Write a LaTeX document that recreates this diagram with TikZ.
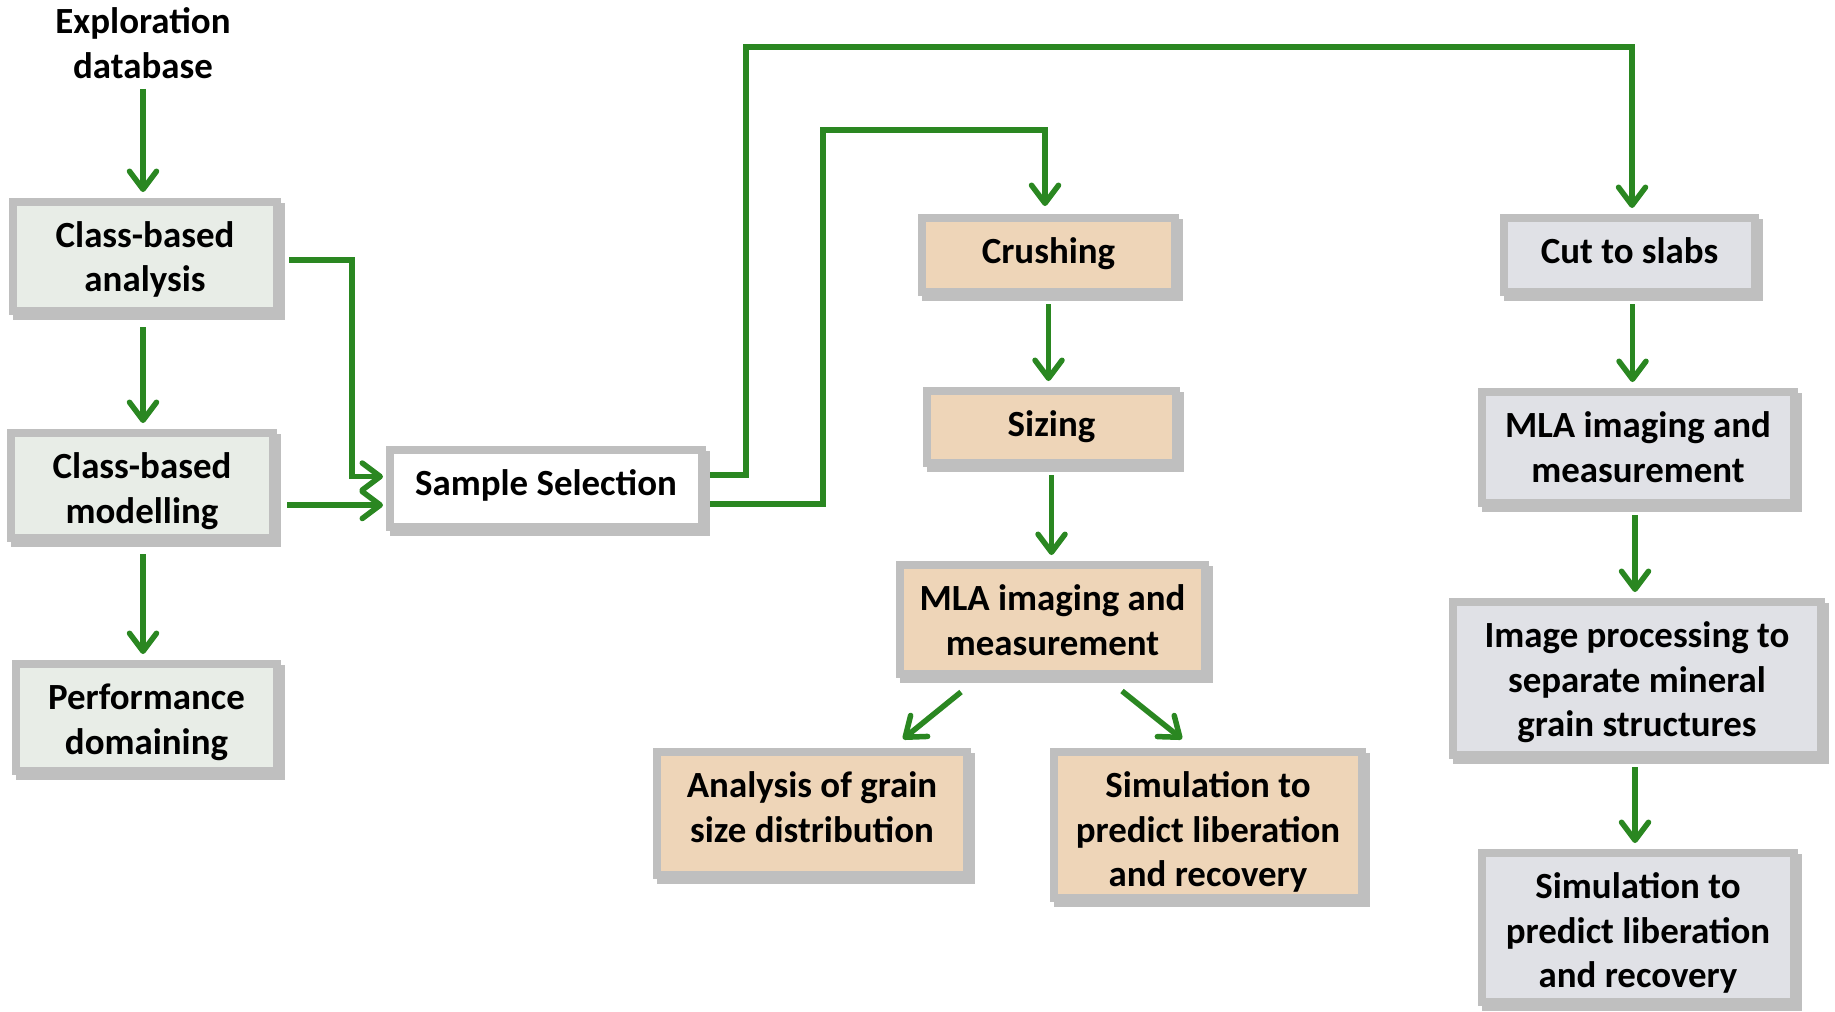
\documentclass[tikz,border=0pt]{standalone}
\usepackage{fontspec}
\setmainfont{Carlito}
\usepackage{tikz}
\usepackage{xcolor}
\usetikzlibrary{arrows.meta, positioning}
\definecolor{flowgreen}{RGB}{42,135,33}
\definecolor{boxline}{RGB}{191,191,191}
\definecolor{geofill}{RGB}{232,237,231}
\definecolor{labfill}{RGB}{238,213,184}
\definecolor{slabfill}{RGB}{224,225,230}
\newcommand{\boxfont}{\bfseries\fontsize{21}{25.6}\selectfont}

\begin{document}
\begin{tikzpicture}[x=0.2mm, y=-0.2mm,
  box/.style={draw=boxline, line width=1.6mm, align=center, inner sep=0pt, font=\boxfont,
    preaction={draw=boxline, line width=1.6mm, transform canvas={shift={(0.8mm,-0.9mm)}}}},
  boxdim/.style n args={3}{minimum width=#1, minimum height=#2,
    text height={\dimexpr 25.6pt*#3+9mm\relax}, text depth={\dimexpr #2-25.6pt*#3-9mm\relax}}, % width, height, extra lines
  geo/.style={box, fill=geofill},
  lab/.style={box, fill=labfill},
  slab/.style={box, fill=slabfill},
  flow/.style={draw=flowgreen, line width=1.1mm, -{Straight Barb[length=3.6mm,width=5.4mm,round]},
    shorten <=1.6mm, shorten >=1.2mm},
  elbow/.style={flow, shorten <=1.4mm, shorten >=0.6mm},
  diag/.style={flow, shorten <=0pt, shorten >=0pt}] %picture scale is one reference pixel
 \useasboundingbox (0,0) rectangle (1835,1011); % page size
 % left column
 \node (expl) at (143,43) [font=\boxfont, align=center, inner sep=0pt] {Exploration\\database};
 \node (ana) at (145,256.5) [geo, boxdim={52.8mm}{21.8mm}{1}] {Class-based\\analysis};
 \node (mod) at (142,485.5) [geo, boxdim={52.4mm}{21mm}{1}] {Class-based\\modelling};
 \node (perf) at (146.5,717.5) [geo, boxdim={52.2mm}{21.4mm}{1}] {Performance\\domaining};
 \node (sel) at (546,488.5) [box, fill=white, boxdim={62.4mm}{15.4mm}{0}] {Sample Selection};
 % crushed sample branch
 \node (crush) at (1048.5,255) [lab, boxdim={50.6mm}{14.8mm}{0}] {Crushing};
 \node (size) at (1051.5,427) [lab, boxdim={49.8mm}{14.4mm}{0}] {Sizing};
 \node (mla1) at (1052.5,619.5) [lab, boxdim={61mm}{21.8mm}{1}] {MLA imaging and\\measurement};
 \node (grain) at (812,813.5) [lab, boxdim={62mm}{24.6mm}{1}] {Analysis of grain\\size distribution};
 \node (sim1) at (1208,825) [lab, boxdim={61.6mm}{29.2mm}{2}] {Simulation to\\predict liberation\\and recovery};
 % slab branch
 \node (cut) at (1629.5,255) [slab, boxdim={50.2mm}{14.8mm}{0}] {Cut to slabs};
 \node (mla2) at (1638,447.5) [slab, boxdim={62.4mm}{22.2mm}{1}] {MLA imaging and\\measurement};
 \node (img) at (1637,678.5) [slab, boxdim={73.6mm}{30.6mm}{2}] {Image processing to\\separate mineral\\grain structures};
 \node (sim2) at (1638,927.5) [slab, boxdim={62.4mm}{29.8mm}{2}] {Simulation to\\predict liberation\\and recovery};
 % turning points
 \coordinate (selin1) at ([yshift=2.4mm]sel.west);
 \coordinate (selin2) at ([yshift=-3.3mm]sel.west);
 \coordinate (selout1) at ([yshift=2.7mm]sel.east);
 \coordinate (selout2) at ([yshift=-3.1mm]sel.east);
 \coordinate (bend) at (352,0);
 \coordinate (outer) at (746,47);
 \coordinate (inner) at (823,130);
 % connectors
 \draw[flow, shorten <=2mm] (expl.south) -- (expl.south |- ana.north);
 \draw[flow, shorten <=2.4mm] (ana.south -| expl.south) -- (expl.south |- mod.north);
 \draw[flow, shorten <=2.4mm] (mod.south -| expl.south) -- (expl.south |- perf.north);
 \draw[elbow, shorten <=1.6mm] ([yshift=-0.7mm]ana.east) -| (selin1 -| bend) -- (selin1);
 \draw[elbow, shorten <=2mm] (selin2 -| mod.east) -- (selin2);
 \draw[elbow, shorten <=0.8mm, shorten >=1.2mm] (selout1) -| (outer) -| ([xshift=0.5mm]cut.north);
 \draw[elbow, shorten <=0.8mm, shorten >=1.6mm] (selout2) -| (inner) -| ([xshift=-0.7mm]crush.north);
 \draw[flow] (crush.south) -- (crush.south |- size.north);
 \draw[flow] (size.south) -- (size.south |- mla1.north);
 \draw[diag] ([xshift=-18.3mm,yshift=-2.8mm]mla1.south) -- ([xshift=18.2mm,yshift=1.8mm]grain.north);
 \draw[diag] ([xshift=13.9mm,yshift=-2.6mm]mla1.south) -- ([xshift=-5.2mm,yshift=1.8mm]sim1.north);
 \draw[flow] ([xshift=0.6mm]cut.south) -- ([xshift=0.6mm]cut.south |- mla2.north);
 \draw[flow] ([xshift=-0.6mm]mla2.south) -- ([xshift=-0.6mm]mla2.south |- img.north);
 \draw[flow] ([xshift=-0.4mm]img.south) -- ([xshift=-0.4mm]img.south |- sim2.north);
\end{tikzpicture}
\end{document}
